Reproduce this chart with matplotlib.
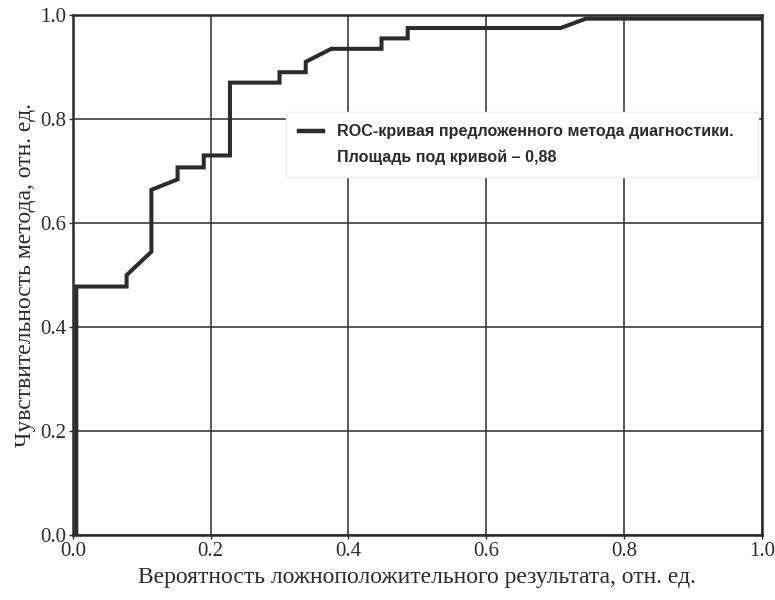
import matplotlib
matplotlib.use("Agg")
import matplotlib.pyplot as plt
from matplotlib.lines import Line2D

# ROC curve points
fpr = [0.005, 0.005, 0.078, 0.078, 0.114, 0.114, 0.152, 0.152, 0.190, 0.190,
       0.228, 0.228, 0.300, 0.300, 0.338, 0.338, 0.375, 0.448, 0.448, 0.486,
       0.486, 0.708, 0.745, 1.000]
tpr = [0.000, 0.478, 0.478, 0.500, 0.545, 0.664, 0.684, 0.707, 0.707, 0.730,
       0.730, 0.870, 0.870, 0.890, 0.890, 0.910, 0.935, 0.935, 0.955, 0.955,
       0.975, 0.975, 0.993, 0.993]

ticks = [0.0, 0.2, 0.4, 0.6, 0.8, 1.0]
tick_labels = ["0.0", "0.2", "0.4", "0.6", "0.8", "1.0"]
legend_line1 = "ROC-кривая предложенного метода диагностики."
legend_line2 = "Площадь под кривой – 0,88"
xlabel = "Вероятность ложноположительного результата, отн. ед."
ylabel = "Чувствительность метода, отн. ед."

INK = "#2b2b2b"

fig = plt.figure(figsize=(7.75, 6.0), dpi=100, facecolor="white")
ax = fig.add_axes([0.094, 0.108, 0.889, 0.867])

ax.plot(fpr, tpr, color=INK, linewidth=2.9, solid_joinstyle="miter", zorder=3)

ax.set_xlim(0.0, 1.0)
ax.set_ylim(0.0, 1.0)
ax.set_xticks(ticks)
ax.set_yticks(ticks)
ax.set_xticklabels(tick_labels, family="Liberation Serif", fontsize=15, color=INK)
ax.set_yticklabels(tick_labels, family="Liberation Serif", fontsize=15, color=INK)
ax.tick_params(length=3, width=1.0, color=INK, pad=2)
ax.grid(True, color=INK, linewidth=1.1)
for s in ax.spines.values():
    s.set_color(INK)
    s.set_linewidth(1.8)

ax.set_xlabel(xlabel, family="Liberation Serif", fontsize=17, color=INK, labelpad=4)
ax.set_ylabel(ylabel, family="Liberation Serif", fontsize=17, color=INK, labelpad=3)

# legend box stretches to the right frame, text stays left-aligned
handles = [Line2D([], [], color=INK, linewidth=3.2),
           Line2D([], [], color="none")]
leg = ax.legend(handles, [legend_line1, legend_line2],
                loc="upper left", bbox_to_anchor=(0.31, 0.713, 0.684, 0.1),
                mode="expand",
                prop={"family": "Liberation Sans", "weight": "bold", "size": 11.6},
                frameon=True, fancybox=False, framealpha=1.0,
                edgecolor="#efefef", handlelength=1.5, handletextpad=0.9,
                labelspacing=0.63, borderpad=0.75, borderaxespad=0.0)
for t in leg.get_texts():
    t.set_color(INK)
leg.set_zorder(4)

fig.savefig("out.png", dpi=100, facecolor="white")
